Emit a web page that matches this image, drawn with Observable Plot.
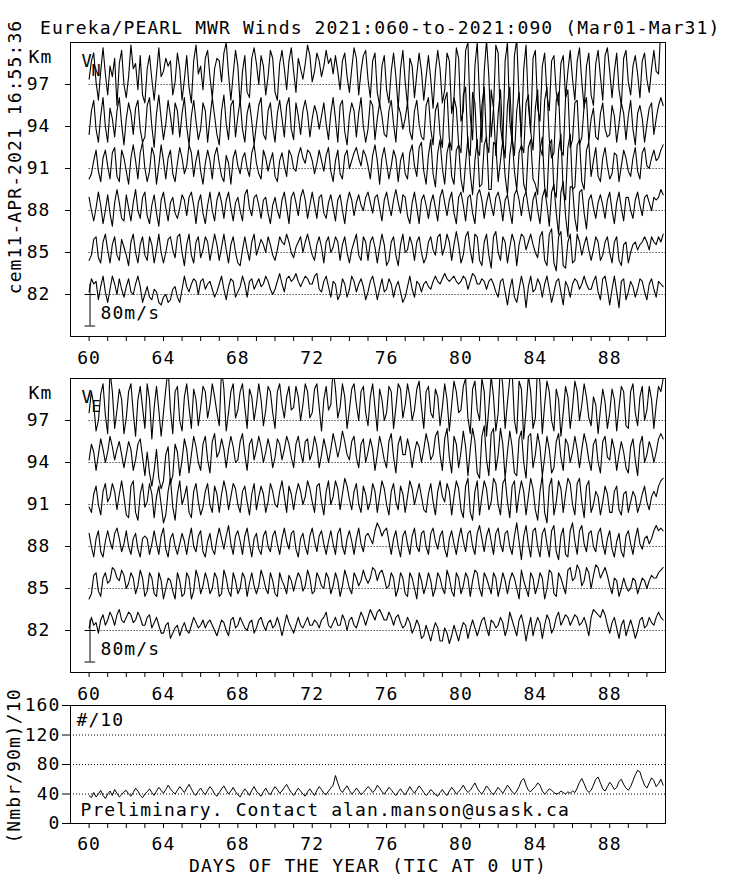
<!DOCTYPE html>
<html><head><meta charset="utf-8">
<script src="https://cdn.jsdelivr.net/npm/d3@7"></script>
<script src="https://cdn.jsdelivr.net/npm/@observablehq/plot@0.6"></script>
<style>
html,body{margin:0;padding:0;background:#fff;}
#chart{position:relative;width:736px;height:877px;overflow:hidden;background:#fff;font-family:"DejaVu Sans Mono",monospace;color:#000;}
#chart svg{position:absolute;left:0;}
.lbl{position:absolute;white-space:pre;font-size:18px;letter-spacing:1.1px;line-height:20px;height:20px;text-align:center;}
</style></head><body><div id="chart"></div>
<script>
// ---------- data (3-hourly samples starting day 60.0) ----------
const title = "Eureka/PEARL MWR Winds 2021:060-to-2021:090 (Mar01-Mar31)";
const stamp = "cem11-APR-2021 16:55:36";
const levels = [97, 94, 91, 88, 85, 82];
const dayTicks = [60,61,62,63,64,65,66,67,68,69,70,71,72,73,74,75,76,77,78,79,80,81,82,83,84,85,86,87,88,89,90];
const labelDays = [60, 64, 68, 72, 76, 80, 84, 88];
const countTicks = [0, 40, 80, 120, 160];
const countGrid = [40, 80, 120];
const stepDays = 1 / 8;
const scaleBarMs = 80;

// Northward wind (m/s)
const vn97 = [10,45,60,5,-30,25,70,20, -20,35,15,50,-40,40,65,0, -25,15,75,30,40,-10,55,-20, -35,30,55,10,-30,20,70,15, 25,50,35,45,-20,5,60,30, -30,10,55,-5,-35,45,75,20, 35,-10,50,65,15,-25,30,50, 45,5,60,80,20,-30,20,65, 35,-40,25,55,-15,-25,50,70, 40,0,55,35,-20,15,65,50, -15,-30,40,65,30,-10,45,70, 25,-15,50,30,10,40,75,55, 5,25,60,45,15,35,65,40, 50,20,55,25,-10,45,60,15, -15,30,70,50,-20,25,55,65, 10,-25,45,60,-15,-40,35,55, -10,-35,25,60,15,-45,30,65, 5,-40,50,35,-25,20,60,25, -30,15,55,10,-45,25,65,30, -35,-10,60,45,-55,-25,70,50, -70,-50,65,80,-60,-105,35,80, -25,-110,25,85,15,-100,-45,75, 60,-80,-115,45,80,-70,-110,55, 85,-25,-100,30,75,-40,-90,50, 65,-45,-70,35,60,-20,-50,45, 55,-15,-40,40,55,-25,25,65, 10,-30,45,70,5,-45,35,60, -20,-40,40,65,15,-30,55,70, 25,-25,25,60,-10,-40,50,65, 5,-20,35,55,20,-25,45,60, 10,-15,30,65,25,20,110,80];
const vn94 = [-15,30,50,-5,-30,20,55,0, -30,35,15,-20,30,55,5,-35, 15,45,25,-15,35,50,-5,-30, -20,40,55,0,-40,25,60,15, -25,5,50,20,-15,45,30,-20, 25,55,0,-35,20,50,10,-25, -5,45,30,-30,15,55,20,-15, -35,30,60,5,-25,40,50,-20, 20,50,-5,-30,25,45,10,-35, 5,40,55,-15,-25,30,45,0, -30,25,50,15,-20,40,55,-5, -25,45,20,-15,30,50,25,-20, 15,40,25,-5,20,45,5,-25, 25,55,15,-30,40,50,-10,-35, 20,45,30,-20,25,55,0,-30, -5,50,40,-25,15,45,20,-15, -20,30,50,5,-30,40,25,-5, 15,45,-10,-25,30,50,5,-20, -25,40,55,-5,-35,30,45,-15, -40,50,65,-25,-45,55,35,-35, -50,60,75,-40,-55,65,45,-45, -55,40,75,-30,-50,70,35,-55, 25,70,-25,-60,40,75,-20,-55, 30,65,-35,-50,45,60,-10,-45, 35,70,-40,-55,50,75,-25,-60, -50,50,65,-45,-55,55,70,-40, -25,45,50,-35,-20,40,55,-30, 15,35,-20,-25,25,45,-5,-20, -15,40,20,-30,5,45,25,-25, 20,50,-5,-35,25,40,15,-30, 5,35,45,-15,15,40,55,40];
const vn91 = [-20,-10,15,35,-5,-25,20,35, 5,-20,30,40,-15,-25,35,20, -5,-30,20,45,15,-20,30,50, 0,-25,-5,40,25,-30,5,45, 15,-20,20,35,-10,-25,10,40, 20,-10,5,45,30,-15,15,35, -5,-30,10,35,15,-20,25,40, 10,-15,-25,25,10,-30,20,35, 5,-10,20,30,0,-15,30,45, 10,-10,-20,35,20,-5,15,30, -15,-25,15,30,5,-15,35,25, 0,-5,25,40,20,10,35,30, 15,-10,10,35,15,-5,25,40, -5,-25,15,35,-10,-20,25,35, 0,15,30,40,20,5,35,25, 5,-20,25,45,15,-30,20,40, 10,-20,5,35,20,-25,15,30, -10,-20,30,45,5,-15,40,50, -5,-30,25,55,-10,-35,30,55, 0,-30,30,50,-15,-30,35,45, -20,-45,10,60,-10,-50,15,55, -35,-30,45,60,-40,-40,50,45, -25,15,55,-15,-50,25,60,-5, -40,30,45,-30,-45,40,55,-20, -30,-50,35,60,-35,-55,45,55, -40,-55,35,65,-45,-60,40,65, -40,-35,45,55,-25,-40,35,50, -15,15,40,-15,-25,20,40,5, -20,-10,30,25,-25,5,35,20, -5,-15,20,40,-5,-20,30,40, 5,0,20,35,15,20,35,45];
const vn88 = [25,0,-20,5,35,10,-25,0, 30,-5,-30,15,40,15,-15,-20, 30,5,-20,15,40,0,-15,25, 35,-10,-25,10,30,-5,-30,20, 35,5,-20,15,25,-5,-15,5, 30,20,-10,25,35,10,-25,15, 30,-5,-25,10,35,0,-20,20, 35,15,-15,20,35,5,-20,15, 25,0,-20,30,40,5,-10,25, 30,10,-15,20,25,-5,-25,10, 25,0,-15,20,35,5,-25,25, 35,15,-10,25,40,20,-15,10, 35,10,-15,25,30,-5,-15,15, 30,5,-20,20,30,0,-25,15, 35,20,-10,15,30,10,0,25, 35,15,-5,25,30,5,-20,20, 35,10,-10,20,40,15,-5,30, 25,-10,-25,15,35,5,-25,20, 30,10,-15,15,30,5,-20,25, 40,15,-10,20,35,-5,-25,25, 35,10,-20,25,30,-5,-25,30, 40,20,-15,15,35,10,-10,25, 35,15,-20,20,30,0,-25,30, 40,20,-10,25,35,5,-20,20, 35,0,-25,25,40,10,-30,35, 50,-5,-45,35,55,-10,-50,45, 45,-15,-40,35,40,-5,-35,20, 30,5,-15,15,30,10,-15,20, 35,0,-25,15,35,5,-20,25, 25,0,-15,20,35,10,-10,25, 30,15,0,25,20,25,40,30];
const vn85 = [-15,-5,25,30,-10,-20,20,35, 5,-20,15,30,-5,-15,25,10, -5,-25,20,35,0,-20,15,30, -5,-15,30,15,-20,5,35,0, -20,0,25,30,5,-10,30,35, 0,-25,15,35,-5,-20,20,30, -10,5,30,20,-15,10,35,15, -15,10,35,5,-20,15,30,0, -20,-25,5,30,5,-15,20,35, -5,10,25,15,0,30,15,-5, -15,5,30,20,15,35,20,0, -10,10,20,30,0,20,35,15, -5,-15,15,30,10,-20,20,30, 0,10,30,20,-15,15,30,0, -20,5,20,35,-5,-15,30,20, -15,20,30,10,-20,10,35,15, -25,-15,20,30,-5,-25,15,35, 0,5,30,15,-15,20,30,0, -20,-10,20,30,5,-5,30,35, -5,10,35,20,-15,15,40,15, -20,-5,30,40,5,-20,35,30, -15,-25,20,35,-5,-30,30,40, 0,-15,30,20,-20,10,35,20, -25,15,35,30,5,20,35,15, 0,-10,30,40,-15,-25,35,45, -20,-35,30,40,-25,-30,20,35, -20,-15,35,20,-5,15,30,5, -15,5,30,20,-15,-5,20,30, 0,-20,20,30,-15,-25,15,20, -20,0,15,20,5,15,20,30, 20,5,30,20,15,30,20,35];
const vn82 = [5,30,20,25,-10,15,35,5, -15,10,35,20,0,30,10,-5, 15,30,5,0,20,35,15,-15, 0,15,-5,-10,10,5,-15,-20, -5,0,-15,-10,10,15,-5,-15, 10,35,15,5,20,30,25,0, 25,30,10,20,25,10,-5,5, 20,35,10,-10,15,30,25,-5, 5,15,35,20,-5,25,30,10, 20,30,15,20,35,25,10,0, 10,25,40,20,5,30,35,25, 30,40,25,15,25,35,30,20, 20,35,40,10,5,25,35,15, -5,25,20,-10,0,30,20,-5, 10,35,25,5,20,30,15,-10, 5,25,35,15,-10,10,30,5, 10,30,20,-5,15,25,5,-15, -5,15,35,10,-5,25,20,5, 20,25,15,10,25,35,25,20, 30,40,30,25,30,35,25,20, 25,35,30,10,25,40,35,20, 20,30,25,10,25,30,20,5, -5,25,30,5,-20,10,30,-5, -15,10,35,15,-25,15,35,5, 10,30,20,-5,20,35,10,-15, 5,25,30,5,-20,25,15,-5, 20,30,25,10,20,35,20,10, 10,25,35,5,-10,30,35,10, -20,10,35,5,-25,25,30,-10, 5,25,15,-5,10,30,25,5, -10,20,30,10,-5,25,20,15];

// Eastward wind (m/s)
const ve97 = [15,55,30,-20,0,50,70,10, -25,95,55,-15,20,60,40,-25, 5,55,70,15,-30,40,65,25, -15,70,40,-35,25,65,20,-30, 15,60,100,20,-25,55,65,0, -20,45,70,25,-15,60,40,-10, 25,65,55,5,30,70,45,15, -10,100,60,-20,15,55,70,5, 20,55,70,25,-15,60,45,0, 30,70,40,-10,20,65,55,15, -15,55,70,30,5,45,65,20, 25,65,45,0,30,70,55,5, 15,60,70,25,-20,40,65,20, 30,100,60,5,25,70,45,-15, 20,60,70,30,0,55,65,15, -10,45,70,25,-20,60,40,0, 15,65,55,-15,25,70,60,5, 30,70,45,0,20,60,75,25, -15,55,65,15,5,60,45,-10, 25,70,40,-20,30,75,55,15, 20,65,80,5,-25,60,75,20, 0,80,55,-30,25,85,45,-20, 15,110,65,-15,35,80,95,0, -25,75,60,-35,20,85,55,-15, 5,110,70,-25,30,75,55,0, -20,60,40,-30,15,65,45,-15, 25,75,55,0,30,70,45,5, -10,45,30,-25,20,60,35,-15, 15,60,40,-20,25,65,55,-10, -15,55,70,15,-10,45,65,0, 20,65,40,-15,30,65,55,80];
const ve94 = [5,35,20,-15,15,45,25,0, 20,50,30,5,25,40,15,-10, 15,40,25,-15,5,35,45,10, -25,20,-20,-45,-15,25,-30,-50, -35,15,30,-40,-25,35,20,-25, 5,45,25,-20,15,50,30,0, -15,35,50,5,-20,40,55,10, 20,45,25,-10,25,50,30,0, 5,40,55,15,-15,35,45,5, 25,50,30,0,20,45,25,-10, 10,45,35,5,25,50,35,10, -10,35,50,20,0,40,45,5, 20,50,30,-10,15,45,25,0, 25,55,35,10,30,60,40,15, 5,40,50,10,-10,35,45,0, 20,45,25,-15,15,50,30,5, -10,40,55,10,-20,35,50,15, 15,45,25,-10,20,40,30,0, 25,55,35,5,15,50,60,15, -15,45,65,10,-20,50,35,-10, 20,60,30,-25,25,65,40,-20, -30,50,70,5,-25,55,65,-15, 15,65,35,-30,20,60,30,-20, -25,45,60,0,-30,50,55,-10, 15,55,30,-25,10,50,25,-20, -10,40,55,10,-15,45,35,0, 20,50,25,-10,25,55,35,5, -15,35,45,0,-20,40,50,10, 5,45,25,-15,15,40,20,-10, -20,30,45,5,-25,35,50,0, 15,40,25,0,20,45,55,45];
const ve91 = [-5,-15,20,35,0,-20,25,40, 5,15,40,25,-10,20,45,15, -20,-25,35,45,-15,-30,20,40, -5,5,40,20,-25,15,35,0, -35,-20,25,50,-5,-30,20,45, 0,15,35,-15,-25,25,40,5, -20,-5,25,40,0,-15,35,20, -15,20,45,25,-10,15,40,30, 0,-15,25,35,5,-20,20,40, -10,15,35,20,-15,5,40,25, 0,-5,25,45,15,-15,35,20, -10,20,40,25,0,15,45,30, 5,-15,35,40,5,-20,25,45, 0,15,45,30,-10,20,50,35, 10,-10,25,40,0,-15,35,20, -10,5,40,25,-15,15,45,30, 0,-20,25,40,5,-10,35,20, -15,15,45,30,0,20,40,15, -10,-15,20,40,5,-20,25,45, 15,5,40,25,-20,15,45,30, -10,-25,35,50,-15,-30,25,45, -20,15,45,30,-10,5,50,40, 0,-20,40,50,5,-25,35,45, -15,20,45,25,-20,15,50,30, -10,-30,25,55,-15,-35,35,50, -20,5,45,30,-15,20,50,40, 0,-20,40,50,5,-25,35,45, -15,0,25,15,-20,5,35,20, -15,-15,25,35,-10,-20,20,25, -15,5,25,15,-15,0,20,35, 5,-10,15,25,15,35,45,50];
const ve88 = [25,0,-20,15,30,-10,-20,10, 30,10,-5,25,35,15,-10,5, 30,0,-15,15,25,-5,-20,15, 20,15,-15,5,30,5,-15,20, 35,-5,-20,15,25,0,-15,5, 25,10,-15,15,35,0,-10,20, 30,-10,-20,10,25,-5,-15,15, 35,15,-5,20,40,5,-15,20, 30,10,-15,20,35,5,-20,15, 25,-5,-15,20,30,0,-10,20, 30,5,-15,15,35,10,-5,25, 30,-5,-20,15,25,0,-15,20, 35,10,-10,20,30,5,-15,10, 30,5,-15,25,35,0,-15,15, 30,10,-15,15,35,5,-10,20, 25,15,5,30,45,35,20,30, 35,10,-15,15,30,0,-20,20, 30,5,-15,20,35,0,-10,25, 30,0,-15,25,35,10,-5,20, 30,-5,-20,15,30,5,-15,15, 35,10,-10,25,30,0,-15,25, 40,15,-10,20,35,10,-15,25, 35,5,-10,25,30,0,-15,20, 45,10,-25,20,40,5,-20,30, 35,0,-20,25,35,5,-20,30, 40,-10,-25,20,35,-15,-20,30, 45,10,-15,30,40,5,-10,25, 30,0,-10,25,35,5,-15,15, 30,-5,-20,10,25,-10,-20,20, 30,5,-15,15,35,5,-5,15, 20,5,15,30,40,30,35,30];
const ve85 = [-20,-10,25,30,-5,-15,20,30, 10,15,40,35,20,15,35,25, 0,10,30,20,-10,5,35,20, -15,-5,30,20,-10,-15,30,15, -20,0,20,15,-5,-20,30,15, -15,-10,30,20,-20,-5,35,20, -10,5,30,15,-10,0,30,20, -15,-10,35,20,-5,-15,30,15, -10,0,30,20,-15,10,30,5, -10,5,35,20,0,-10,30,15, -10,-15,30,15,5,-10,25,15, -5,15,30,20,-5,5,35,20, -10,-5,30,20,5,0,30,20, -10,5,30,15,-15,5,35,20, 0,-10,30,20,5,15,35,20, 10,20,40,35,15,30,35,20, 0,5,30,20,-15,0,30,20, -10,-15,30,20,0,-20,30,15, -10,5,30,15,-15,0,30,20, 0,-10,35,20,-5,-15,30,20, -10,5,30,20,-15,15,35,30, 0,-15,30,20,5,-10,30,20, -15,5,30,15,-10,15,30,20, 0,-20,35,15,0,-15,30,20, -10,5,30,20,-20,0,35,30, -10,-15,30,20,5,-10,35,40, 15,20,45,35,5,15,40,30, 0,25,45,40,20,30,40,25, 5,-10,20,15,-15,0,20,5, -5,0,20,15,-10,5,20,15, 0,15,25,20,20,30,35,40];
const ve82 = [5,25,10,15,-5,20,30,10, 20,35,25,10,30,40,20,15, 25,35,30,15,20,35,25,10, 10,25,30,5,15,25,10,-5, -5,10,15,-15,-5,5,10,-10, 5,15,0,-5,10,25,15,5, 10,20,5,15,20,10,0,-10, 5,20,15,0,-10,20,25,5, 10,25,15,5,0,15,20,-5, 5,20,25,10,0,15,20,5, 10,25,10,-10,10,30,15,5, -5,10,25,10,5,15,25,10, 10,20,15,5,20,25,35,10, 5,15,25,10,10,30,20,0, 20,25,10,5,20,35,25,10, 25,40,30,20,35,40,30,20, 20,35,25,10,25,30,15,5, 10,25,15,-5,5,20,10,-15, -10,10,-5,-20,0,15,5,-20, -20,5,-5,-25,-10,10,-5,-20, 0,15,10,-15,5,20,5,-10, 5,20,25,5,-10,20,15,5, 10,25,15,-10,5,35,20,5, -10,20,30,10,-20,5,25,-10, 10,25,15,-15,10,30,20,-5, 5,25,35,10,20,30,25,10, 20,30,25,10,15,25,10,-10, 25,40,35,30,25,40,30,10, -5,15,25,5,-15,10,20,-10, 5,20,5,-15,0,20,25,5, 10,25,15,10,25,35,25,20];

// Number of meteors per 90 m, divided by 10
const counts = [38,35,42,36,40,45,38,34, 40,44,38,46,41,36,39,43, 45,40,37,42,48,44,38,35, 40,43,47,42,38,44,49,45, 41,46,52,47,43,40,45,50, 46,42,48,53,47,41,38,44, 48,43,39,45,50,46,40,37, 42,47,51,45,40,44,49,43, 39,36,42,47,43,38,45,50, 44,40,37,43,48,42,39,45, 50,46,41,44,49,53,47,42, 38,43,48,44,40,37,43,47, 42,38,45,50,46,41,39,44, 48,52,65,55,46,42,47,51, 45,40,43,48,44,39,42,46, 50,47,42,45,52,48,43,40, 44,49,46,41,38,43,47,42, 39,44,50,45,41,46,51,47, 42,38,41,46,43,39,37,42, 46,41,38,44,49,45,40,43, 47,52,46,42,45,50,55,48, 43,40,45,51,47,42,39,44, 49,45,41,46,52,48,43,40, 44,50,58,61,52,45,43,47, 50,55,52,44,40,43,47,45, 42,40,41,44,42,40,43,41, 44,42,48,56,61,54,46,42, 45,52,60,63,55,47,44,50, 56,52,46,49,57,60,53,48, 45,50,58,66,72,70,60,52, 48,55,62,58,50,54,60,52];

// ---------- drawing ----------
const kmPerMs = 3 / scaleBarMs;
const FONT = {fontFamily: '"DejaVu Sans Mono", monospace', fontSize: "18px", letterSpacing: "1.1px", background: "transparent", color: "black", overflow: "visible"};
const chart = document.getElementById("chart");

function windPanel(series, comp, top) {
  const rows = [];
  levels.forEach((lev, j) => series[j].forEach((v, i) => rows.push({day: 60 + i * stepDays, km: lev + v * kmPerMs, level: lev})));
  const p = Plot.plot({
    width: 736, height: 372,
    marginTop: 42, marginBottom: 36, marginLeft: 70, marginRight: 71,
    style: FONT,
    x: {domain: [59, 91], label: null},
    y: {domain: [79, 100], label: null},
    marks: [
      Plot.ruleY(levels, {x1: 60, x2: 91, stroke: "black", strokeWidth: 1, strokeDasharray: "1,2"}),
      Plot.line(rows, {x: "day", y: "km", z: "level", stroke: "black", strokeWidth: 1.1, clip: true}),
      Plot.ruleX([60.05], {y1: 79.75, y2: 79.75 + scaleBarMs * kmPerMs, stroke: "black", strokeWidth: 1}),
      Plot.ruleY([79.75, 82], {x1: 59.78, x2: 60.35, stroke: "black", strokeWidth: 1}),
      Plot.axisY(levels, {tickSize: 5, tickPadding: 15, fontSize: 18}),
      Plot.axisX(dayTicks, {tickSize: 5, tickFormat: () => ""}),
      Plot.axisX(labelDays, {tickSize: 0, tickPadding: 15, fontSize: 18}),
      Plot.frame({stroke: "black", strokeWidth: 1}),
      Plot.text(["Km"], {text: d => d, frameAnchor: "top-left", textAnchor: "start", lineAnchor: "middle", dx: -42, dy: 15, fontSize: 18}),
      Plot.text(["V"], {text: d => d, frameAnchor: "top-left", lineAnchor: "middle", dx: 11, dy: 19, fontSize: 17, fill: "black"}),
      Plot.text([comp], {text: d => d, frameAnchor: "top-left", lineAnchor: "middle", dx: 21, dy: 29, fontSize: 15, fill: "black"}),
      Plot.text([scaleBarMs + "m/s"], {text: d => d, frameAnchor: "bottom-left", textAnchor: "start", lineAnchor: "middle", dx: 30, dy: -23, fontSize: 18})
    ]
  });
  p.style.top = top + "px";
  chart.appendChild(p);
}

windPanel([vn97, vn94, vn91, vn88, vn85, vn82], "N", 0);
windPanel([ve97, ve94, ve91, ve88, ve85, ve82], "E", 336);

const cp = Plot.plot({
  width: 736, height: 205,
  marginTop: 33, marginBottom: 54, marginLeft: 70, marginRight: 71,
  style: FONT,
  x: {domain: [59, 91], label: null},
  y: {domain: [0, 160], label: null},
  marks: [
    Plot.ruleY(countGrid, {stroke: "black", strokeWidth: 1, strokeDasharray: "1,2"}),
    Plot.line(counts, {x: (d, i) => 60 + i * stepDays, y: d => d, stroke: "black", strokeWidth: 1, clip: true}),
    Plot.axisY(countTicks, {tickSize: 8, tickPadding: 2, fontSize: 18}),
    Plot.axisX(dayTicks, {tickSize: 5, tickFormat: () => ""}),
    Plot.axisX(labelDays, {tickSize: 0, tickPadding: 14, fontSize: 18}),
    Plot.frame({stroke: "black", strokeWidth: 1}),
    Plot.text(["#/10"], {text: d => d, frameAnchor: "top-left", textAnchor: "start", lineAnchor: "middle", dx: 6, dy: 15, fontSize: 18}),
    Plot.text(["Preliminary. Contact alan.manson@usask.ca"], {text: d => d, frameAnchor: "bottom-left", textAnchor: "start", lineAnchor: "middle", dx: 10, dy: -13, fontSize: 18}),
    Plot.text(["DAYS OF THE YEAR (TIC AT 0 UT)"], {text: d => d, frameAnchor: "bottom", lineAnchor: "middle", dy: 42.5, fontSize: 18, style: "letter-spacing:1.1px"})
  ]
});
cp.style.top = "672px";
chart.appendChild(cp);

function addLabel(text, cx, cy, w, rotate) {
  const d = document.createElement("div");
  d.className = "lbl";
  d.textContent = text;
  d.style.width = w + "px";
  d.style.left = (cx - w / 2) + "px";
  d.style.top = (cy - 10) + "px";
  if (rotate) d.style.transform = "rotate(-90deg)";
  chart.appendChild(d);
}
const t = document.createElement("div");
t.className = "lbl";
t.textContent = title;
t.style.left = "40px";
t.style.top = "18px";
t.style.textAlign = "left";
chart.appendChild(t);
addLabel(stamp, 15, 157, 300, true);
addLabel("(Nmbr/90m)/10", 14, 766, 200, true);
</script></body></html>
